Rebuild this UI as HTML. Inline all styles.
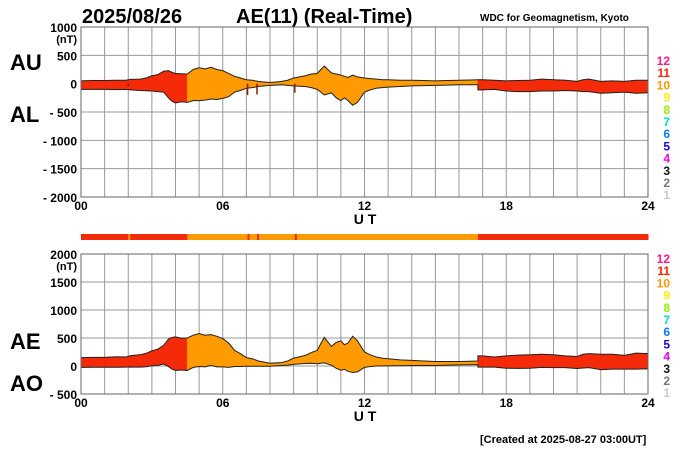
<!DOCTYPE html>
<html><head><meta charset="utf-8"><style>
body{margin:0;background:#fff;}
svg text{font-family:"Liberation Sans",sans-serif;font-weight:bold;}
</style></head><body>
<svg id="c" width="700" height="450" xmlns="http://www.w3.org/2000/svg">
<text x="82" y="23" font-size="20">2025/08/26</text>
<text x="236" y="23" font-size="20">AE(11) (Real-Time)</text>
<text x="480" y="21" font-size="10" font-weight="normal">WDC for Geomagnetism, Kyoto</text>
<text x="10" y="70" font-size="22">AU</text>
<text x="10" y="122" font-size="22">AL</text>
<text x="10" y="349" font-size="22">AE</text>
<text x="10" y="391" font-size="22">AO</text>
<text x="480" y="443" font-size="11">[Created at 2025-08-27 03:00UT]</text>
<g id="top"></g><g id="bot"></g><g id="bar"></g>
</svg>
<script>
const times=[0,0.5,1,1.5,1.9,2.1,2.5,2.75,3,3.25,3.5,3.7,3.85,4,4.25,4.5,4.5,4.75,5,5.25,5.5,5.75,6,6.25,6.5,6.75,7,7.25,7.5,7.75,8,8.25,8.5,8.75,9,9.25,9.5,9.75,10,10.15,10.3,10.45,10.6,10.8,11,11.15,11.3,11.5,11.7,12,12.25,12.5,12.75,13,13.5,14,14.5,15,15.5,16,16.5,16.8,16.8,17,17.5,18,18.5,19,19.5,20,20.5,21,21.25,21.5,22,22.5,23,23.5,24];
const auVals=[50,55,55,60,60,75,80,100,140,160,220,230,200,180,175,170,170,250,280,260,290,250,230,180,130,100,70,60,40,30,20,30,40,60,100,120,140,170,180,250,310,250,190,170,150,130,110,150,120,100,90,80,70,70,60,60,55,50,55,60,65,70,70,70,60,50,55,60,80,70,60,40,70,80,40,50,40,60,60];
const alVals=[-100,-100,-100,-105,-100,-110,-120,-125,-130,-140,-150,-250,-310,-340,-320,-330,-330,-300,-300,-290,-270,-280,-260,-230,-150,-120,-80,-70,-50,-40,-30,-25,-20,-30,-40,-45,-50,-70,-100,-150,-200,-180,-160,-250,-300,-250,-300,-380,-330,-150,-110,-80,-70,-60,-50,-40,-35,-30,-25,-20,-20,-20,-110,-110,-100,-130,-140,-140,-130,-130,-120,-130,-140,-140,-170,-160,-150,-170,-160];
const segColors=['r','r','r','r','r','r','r','r','r','r','r','r','r','r','r','r','o','o','o','o','o','o','o','o','o','o','o','o','o','o','o','o','o','o','o','o','o','o','o','o','o','o','o','o','o','o','o','o','o','o','o','o','o','o','o','o','o','o','o','o','o','r','r','r','r','r','r','r','r','r','r','r','r','r','r','r','r','r'];
const spikeTimes=[2.0,7.05,7.45,9.05];
const spikeVals=[-50,-200,-190,-160];
const topTicks=['1000','500','0','- 500','- 1000','- 1500','- 2000'];
const botTicks=['2000','1500','1000','500','0','- 500'];
const hourTicks=['00','06','12','18','24'];
const levelLabels=['12','11','10','9','8','7','6','5','4','3','2','1'];
const levelColors=['#ff1a8c','#ff2200','#ff9900','#ffee00','#99ee00','#00e0c0','#0a7aff','#2200ee','#ee00ee','#111','#777','#ccc'];
const COL={r:'#f52a08',o:'#ff9a00'};
const NS='http://www.w3.org/2000/svg';
const X0=81,X1=648;
const xs=h=>X0+(X1-X0)*h/24;
function mk(p,t,a){const e=document.createElementNS(NS,t);for(const k in a)e.setAttribute(k,a[k]);p.appendChild(e);return e;}
function panel(g,top,bottom,vmax,vmin,ticks,upper,lower,name,legY){
  const ys=v=>top+(vmax-v)*(bottom-top)/(vmax-vmin);
  for(let h=0;h<=24;h++){const l=mk(g,'line',{x1:xs(h),x2:xs(h),y1:top,y2:bottom,stroke:'#999','stroke-width':1});
    }
  ticks.forEach((t,i)=>{const v=vmax-i*500,y=ys(v);
    const l=mk(g,'line',{x1:X0,x2:X1,y1:y,y2:y,stroke:'#999','stroke-width':1});
    
    const tx=mk(g,'text',{x:77,y:y+5,'font-size':12,'text-anchor':'end'});tx.textContent=t;
    });
  const u=mk(g,'text',{x:77,y:ys(vmax)+16,'font-size':11,'text-anchor':'end'});u.textContent='(nT)';
  
  for(let i=0;i<times.length-1;i++){if(times[i]===times[i+1])continue;
    const pts=[[xs(times[i]),ys(upper[i])],[xs(times[i+1]),ys(upper[i+1])],[xs(times[i+1]),ys(lower[i+1])],[xs(times[i]),ys(lower[i])]];
    const p=mk(g,'polygon',{points:pts.map(q=>q.join(',')).join(' '),fill:COL[segColors[i]],stroke:COL[segColors[i]],'stroke-width':0.6});
    }
  const up=mk(g,'polyline',{points:times.map((t,i)=>xs(t)+','+ys(upper[i])).join(' '),fill:'none',stroke:'#222','stroke-width':1});
  
  const lo=mk(g,'polyline',{points:times.map((t,i)=>xs(t)+','+ys(lower[i])).join(' '),fill:'none',stroke:'#222','stroke-width':1});
  
  mk(g,'rect',{x:X0,y:top,width:X1-X0,height:bottom-top,fill:'none',stroke:'#666','stroke-width':1});
  hourTicks.forEach((t,i)=>{const tx=mk(g,'text',{x:xs(i*6),y:bottom+13,'font-size':12,'text-anchor':'middle'});tx.textContent=t;
    });
  const ut=mk(g,'text',{x:365,y:bottom+27,'font-size':14,'text-anchor':'middle'});ut.textContent='U T';
  
  levelLabels.forEach((t,i)=>{const tx=mk(g,'text',{x:670,y:legY+i*12.2,'font-size':12,'text-anchor':'end',fill:levelColors[i],'font-weight':'normal'});tx.textContent=t;
    });
  return ys;
}
const ysT=panel(document.getElementById('top'),27,197,1000,-2000,topTicks,auVals,alVals,'au-al',65);
const aeVals=auVals.map((u,i)=>u-alVals[i]);
const aoVals=auVals.map((u,i)=>(u+alVals[i])/2);
const ysB=panel(document.getElementById('bot'),254,394,2000,-500,botTicks,aeVals,aoVals,'ae-ao',263);
const tg=document.getElementById('top');
spikeTimes.forEach((t,i)=>{const l=mk(tg,'line',{x1:xs(t),x2:xs(t),y1:ysT(0),y2:ysT(spikeVals[i]),stroke:'#8a1a00','stroke-width':1.5});
  });
const bar=document.getElementById('bar');
for(let i=0;i<times.length-1;i++){if(times[i]===times[i+1])continue;
  const r=mk(bar,'rect',{x:xs(times[i]),y:234,width:xs(times[i+1])-xs(times[i])+0.5,height:6,fill:COL[segColors[i]]});
  }
spikeTimes.forEach((t,i)=>{const r=mk(bar,'rect',{x:xs(t),y:234,width:2,height:6,fill:i===0?COL.o:COL.r});
  });
</script>
</body></html>
